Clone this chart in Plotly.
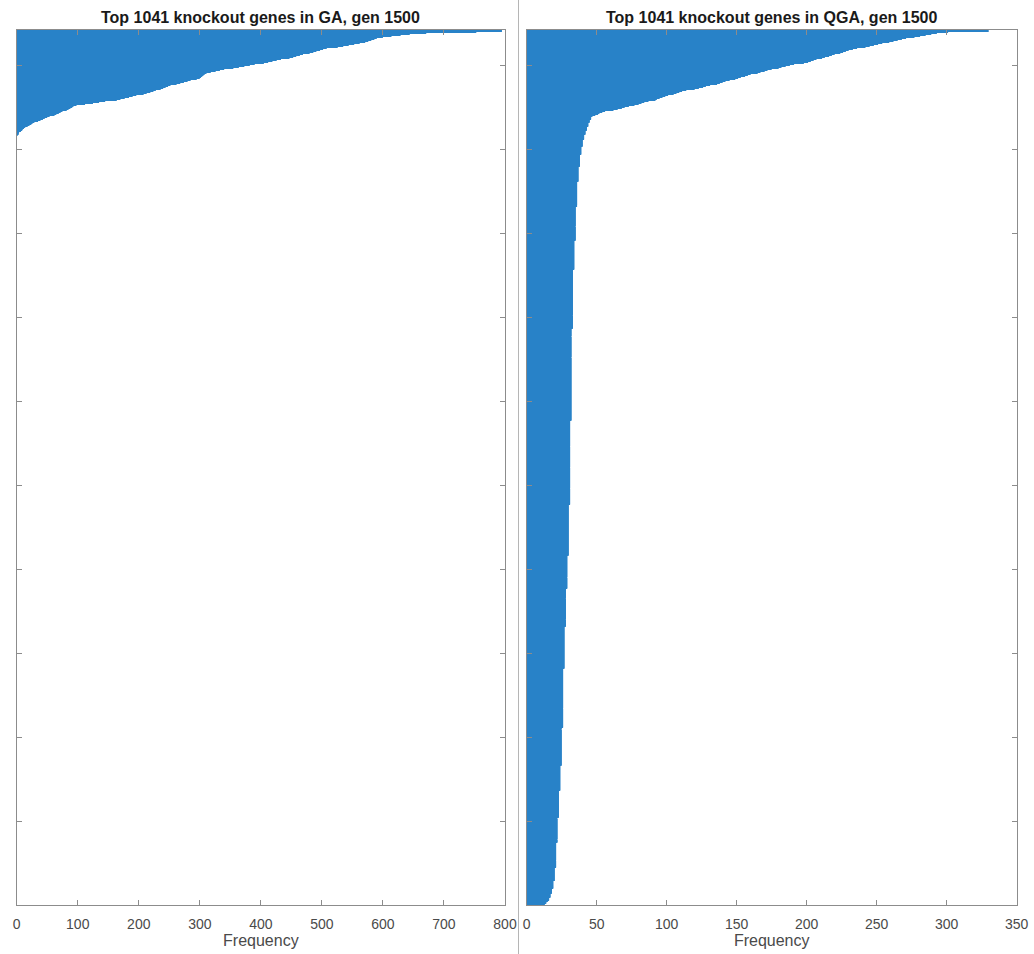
import numpy as np
import plotly.graph_objects as go
from plotly.subplots import make_subplots

N_GENES = 1041

# ---- GA, generation 1500: knockout frequency per gene, sorted ascending ----
ga_zero_genes = 916          # genes never knocked out
ga_tail = [
    1, 2, 3, 4, 5,
    7, 9, 10, 12, 14, 16,
    18, 21, 24, 26, 29, 32,
    35, 39, 43, 46, 50, 54,
    58, 62, 65, 69, 72, 75, 79, 82,
    85, 88, 91, 93, 96, 98,
    112, 125, 135, 145, 155, 164,
    170, 177, 184, 190, 196, 202,
    208, 213, 219, 224,
    228, 232, 236, 240, 244, 248, 252, 256,
    262, 268, 274, 280, 285, 290, 295, 300,
    302, 304, 306, 308, 309, 311,
    318, 326, 333, 340, 348, 355,
    364, 373, 382, 390, 398,
    405, 412, 419, 426, 433, 440, 447, 453,
    458, 464, 469, 475, 480, 486, 491, 497, 502, 508,
    517, 526, 535, 544, 553, 562,
    567, 571, 576, 581, 586, 590, 595, 600,
    614, 629, 644,
    671, 699,
    753,
    795,
]

# ---- QGA, generation 1500: frequency levels and how many genes share each ----
qga_levels = [13, 14, 15, 16, 17, 18, 19, 20, 21, 22, 23, 24, 25, 26, 27, 28,
              29, 30, 31, 32, 33, 34, 35, 36, 37, 38, 39, 40, 41, 42, 43, 44,
              45, 46, 47]
qga_level_genes = [1, 2, 2, 3, 5, 6, 9, 16, 30, 30, 32, 30, 45, 70, 50, 45,
                   40, 60, 100, 110, 70, 35, 40, 30, 18, 14, 10, 8, 6, 5, 5, 4,
                   4, 3, 2]
qga_tail = [
    49, 51, 52, 54, 56,
    59, 62, 65, 68, 70, 73,
    75, 77, 80, 82, 84, 87, 89, 92,
    93, 95, 97, 99, 101, 103, 105, 107, 109, 111,
    114, 117, 120, 123, 126, 128, 131, 134,
    136, 138, 140, 142, 145, 147, 149, 151, 153, 156, 158,
    160, 163, 165, 167, 170, 172, 175, 177, 180, 182,
    185, 188, 191, 194, 198, 201,
    203, 205, 207, 209, 211, 213, 216, 218,
    220, 222, 224, 226, 228, 230,
    233, 236, 239, 242, 245, 248, 251, 254,
    256, 259, 262, 265, 268, 271, 274, 277,
    281, 285, 289, 293, 297, 301,
    330,
]

ga_freq = np.concatenate([np.zeros(ga_zero_genes), ga_tail])
qga_freq = np.concatenate([np.repeat(qga_levels, qga_level_genes), qga_tail])
assert len(ga_freq) == N_GENES and len(qga_freq) == N_GENES
rank = np.arange(1, N_GENES + 1)

W, H = 1034, 954
BAR_COLOR = "rgb(40,130,200)"
AXIS_COLOR = "#8c8c8c"
TEXT_COLOR = "#4a4a4a"
FONT = "Liberation Sans, Arial, Helvetica"

fig = make_subplots(rows=1, cols=2)
fig.add_trace(go.Bar(x=ga_freq, y=rank, orientation="h",
                     marker=dict(color=BAR_COLOR, line=dict(width=0))), 1, 1)
fig.add_trace(go.Bar(x=qga_freq, y=rank, orientation="h",
                     marker=dict(color=BAR_COLOR, line=dict(width=0))), 1, 2)

y_dom = [1 - 905 / H, 1 - 30 / H]
left_dom = [16.7 / W, 505 / W]
right_dom = [526.7 / W, 1016.7 / W]

common_x = dict(showline=True, linecolor=AXIS_COLOR, linewidth=1, mirror="ticks",
                ticks="inside", ticklen=5, tickcolor=AXIS_COLOR, showgrid=False,
                zeroline=False, automargin=False, ticklabelstandoff=6,
                tickfont=dict(family=FONT, size=14, color=TEXT_COLOR),
                title=dict(text="Frequency", standoff=3,
                           font=dict(family=FONT, size=16, color=TEXT_COLOR)))
common_y = dict(showline=True, linecolor=AXIS_COLOR, linewidth=1, mirror="ticks",
                ticks="inside", ticklen=5, tickcolor=AXIS_COLOR, showgrid=False,
                zeroline=False, showticklabels=False, automargin=False,
                range=[0, N_GENES + 1], tickmode="array",
                tickvals=list(range(0, 1001, 100)), domain=y_dom)

fig.update_xaxes(common_x, row=1, col=1)
fig.update_xaxes(common_x, row=1, col=2)
fig.update_xaxes(domain=left_dom, range=[0, 800], tickvals=list(range(0, 801, 100)),
                 tickmode="array", row=1, col=1)
fig.update_xaxes(domain=right_dom, range=[0, 350], tickvals=list(range(0, 351, 50)),
                 tickmode="array", row=1, col=2)
fig.update_yaxes(common_y, row=1, col=1)
fig.update_yaxes(common_y, row=1, col=2)

title_font = dict(family=FONT, size=16, color="#1a1a1a")
for text, dom in [("<b>Top 1041 knockout genes in GA, gen 1500</b>", left_dom),
                  ("<b>Top 1041 knockout genes in QGA, gen 1500</b>", right_dom)]:
    fig.add_annotation(text=text, xref="paper", yref="paper",
                       x=(dom[0] + dom[1]) / 2, y=1 - 17 / H,
                       xanchor="center", yanchor="middle", showarrow=False,
                       font=title_font)

# thin divider between the two panels
fig.add_shape(type="line", xref="paper", yref="paper",
              x0=518.5 / W, x1=518.5 / W, y0=0, y1=1,
              line=dict(color="#b5b5b5", width=1))

fig.update_layout(width=W, height=H, margin=dict(l=0, r=0, t=0, b=0),
                  plot_bgcolor="white", paper_bgcolor="white",
                  showlegend=False, bargap=0.2)

fig.write_html("out.html")
